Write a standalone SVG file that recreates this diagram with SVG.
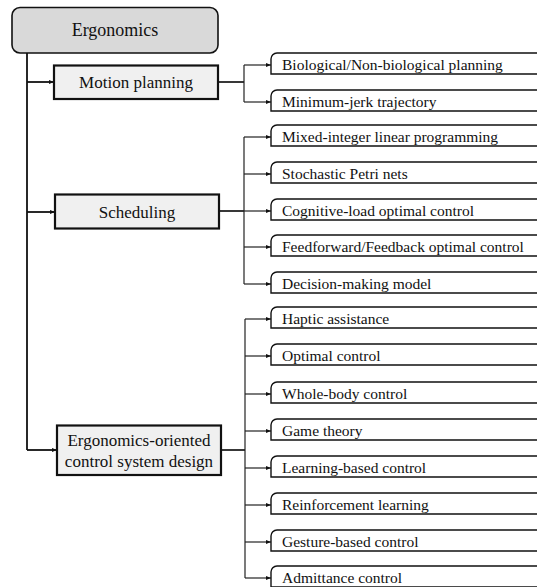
<svg xmlns="http://www.w3.org/2000/svg" width="537" height="587" viewBox="0 0 537 587">
  <style>
    .root { fill: #d9d9d9; stroke: #111; stroke-width: 1.6; }
    .cat { fill: #f0f0f0; stroke: #111; stroke-width: 2.2; }
    .leaf { fill: #fff; stroke: #111; stroke-width: 1.4; }
    text { font-family: 'Liberation Serif', 'Times New Roman', serif; fill: #111; }
    .t-root { font-size: 18px; text-anchor: middle; }
    .t-cat { font-size: 17px; text-anchor: middle; }
    .t-leaf { font-size: 15.5px; }
    .trunk { fill: none; stroke: #111; stroke-width: 1.8; }
    .branch { fill: none; stroke: #222; stroke-width: 1.2; }
    .stem { fill: none; stroke: #222; stroke-width: 1.8; }
  </style>
  <defs>
    <marker id="arr" viewBox="0 0 10 10" refX="10" refY="5" markerWidth="5" markerHeight="5" orient="auto" markerUnits="userSpaceOnUse">
      <path d="M0,1 L10,5 L0,9 z" fill="#111"/>
    </marker>
  </defs>

  <!-- connectors -->
  <g id="connectors">
    <!-- main trunk from the root -->
    <path class="trunk" d="M27,53 V450"/>
    <path class="trunk" d="M27,82 H54" marker-end="url(#arr)"/>
    <path class="trunk" d="M27,212 H55" marker-end="url(#arr)"/>
    <path class="trunk" d="M27,450 H57" marker-end="url(#arr)"/>

    <!-- motion planning branch -->
    <path class="stem" d="M218,82 H244"/>
    <path class="branch" d="M244,65 V102"/>
    <path class="branch" d="M244,65 H271" marker-end="url(#arr)"/>
    <path class="branch" d="M244,102 H271" marker-end="url(#arr)"/>

    <!-- scheduling branch -->
    <path class="stem" d="M219,211 H244"/>
    <path class="branch" d="M244,137 V284"/>
    <path class="branch" d="M244,137 H271" marker-end="url(#arr)"/>
    <path class="branch" d="M244,174 H271" marker-end="url(#arr)"/>
    <path class="branch" d="M244,211 H271" marker-end="url(#arr)"/>
    <path class="branch" d="M244,247 H271" marker-end="url(#arr)"/>
    <path class="branch" d="M244,284 H271" marker-end="url(#arr)"/>

    <!-- control system design branch -->
    <path class="stem" d="M221,450 H245"/>
    <path class="branch" d="M245,319 V578"/>
    <path class="branch" d="M245,319 H271" marker-end="url(#arr)"/>
    <path class="branch" d="M245,356 H271" marker-end="url(#arr)"/>
    <path class="branch" d="M245,394 H271" marker-end="url(#arr)"/>
    <path class="branch" d="M245,431 H271" marker-end="url(#arr)"/>
    <path class="branch" d="M245,468 H271" marker-end="url(#arr)"/>
    <path class="branch" d="M245,505 H271" marker-end="url(#arr)"/>
    <path class="branch" d="M245,542 H271" marker-end="url(#arr)"/>
    <path class="branch" d="M245,578 H271" marker-end="url(#arr)"/>
  </g>

  <!-- root -->
  <g id="ergonomics">
    <rect class="root" x="12" y="7.5" width="206" height="45.5" rx="8"/>
    <text class="t-root" x="115" y="36">Ergonomics</text>
  </g>

  <!-- categories -->
  <g id="motion-planning">
    <rect class="cat" x="54" y="65.5" width="164" height="33.5"/>
    <text class="t-cat" x="136" y="88">Motion planning</text>
  </g>
  <g id="scheduling">
    <rect class="cat" x="55" y="194.5" width="164" height="34"/>
    <text class="t-cat" x="137" y="218">Scheduling</text>
  </g>
  <g id="control-system-design">
    <rect class="cat" x="57" y="425.5" width="164" height="49.5"/>
    <text class="t-cat" x="139" y="446">Ergonomics-oriented</text>
    <text class="t-cat" x="139" y="467">control system design</text>
  </g>

  <!-- leaves: rounded top-left corner, open to the right edge -->
  <g id="leaf-biological">
    <path class="leaf" d="M545,53 H277 A6,6 0 0 0 271,59 V74 H545"/>
    <text class="t-leaf" x="282" y="70">Biological/Non-biological planning</text>
  </g>
  <g id="leaf-minimum-jerk">
    <path class="leaf" d="M545,90 H277 A6,6 0 0 0 271,96 V111 H545"/>
    <text class="t-leaf" x="282" y="107">Minimum-jerk trajectory</text>
  </g>

  <g id="leaf-milp">
    <path class="leaf" d="M545,125 H277 A6,6 0 0 0 271,131 V146 H545"/>
    <text class="t-leaf" x="282" y="142">Mixed-integer linear programming</text>
  </g>
  <g id="leaf-petri">
    <path class="leaf" d="M545,162 H277 A6,6 0 0 0 271,168 V183 H545"/>
    <text class="t-leaf" x="282" y="179">Stochastic Petri nets</text>
  </g>
  <g id="leaf-cognitive">
    <path class="leaf" d="M545,199 H277 A6,6 0 0 0 271,205 V220 H545"/>
    <text class="t-leaf" x="282" y="216">Cognitive-load optimal control</text>
  </g>
  <g id="leaf-feedforward">
    <path class="leaf" d="M545,235 H277 A6,6 0 0 0 271,241 V256 H545"/>
    <text class="t-leaf" x="282" y="252">Feedforward/Feedback optimal control</text>
  </g>
  <g id="leaf-decision">
    <path class="leaf" d="M545,272 H277 A6,6 0 0 0 271,278 V293 H545"/>
    <text class="t-leaf" x="282" y="289">Decision-making model</text>
  </g>

  <g id="leaf-haptic">
    <path class="leaf" d="M545,307 H277 A6,6 0 0 0 271,313 V328 H545"/>
    <text class="t-leaf" x="282" y="324">Haptic assistance</text>
  </g>
  <g id="leaf-optimal">
    <path class="leaf" d="M545,344 H277 A6,6 0 0 0 271,350 V365 H545"/>
    <text class="t-leaf" x="282" y="361">Optimal control</text>
  </g>
  <g id="leaf-whole-body">
    <path class="leaf" d="M545,382 H277 A6,6 0 0 0 271,388 V403 H545"/>
    <text class="t-leaf" x="282" y="399">Whole-body control</text>
  </g>
  <g id="leaf-game">
    <path class="leaf" d="M545,419 H277 A6,6 0 0 0 271,425 V440 H545"/>
    <text class="t-leaf" x="282" y="436">Game theory</text>
  </g>
  <g id="leaf-learning">
    <path class="leaf" d="M545,456 H277 A6,6 0 0 0 271,462 V477 H545"/>
    <text class="t-leaf" x="282" y="473">Learning-based control</text>
  </g>
  <g id="leaf-reinforcement">
    <path class="leaf" d="M545,493 H277 A6,6 0 0 0 271,499 V514 H545"/>
    <text class="t-leaf" x="282" y="510">Reinforcement learning</text>
  </g>
  <g id="leaf-gesture">
    <path class="leaf" d="M545,530 H277 A6,6 0 0 0 271,536 V551 H545"/>
    <text class="t-leaf" x="282" y="547">Gesture-based control</text>
  </g>
  <g id="leaf-admittance">
    <path class="leaf" d="M545,566 H277 A6,6 0 0 0 271,572 V587 H545"/>
    <text class="t-leaf" x="282" y="583">Admittance control</text>
  </g>
</svg>
